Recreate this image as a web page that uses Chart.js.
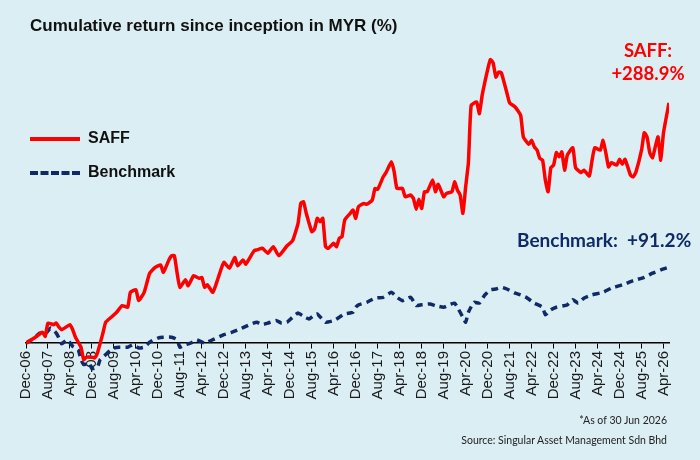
<!DOCTYPE html>
<html>
<head>
<meta charset="utf-8">
<script src="https://cdn.jsdelivr.net/npm/chart.js@4.4.1/dist/chart.umd.min.js"></script>
<style>
  html, body { margin: 0; padding: 0; background: #dbeef4; }
  #wrap { position: relative; width: 700px; height: 460px; overflow: hidden; background: #dbeef4; }
  #wrap canvas { position: absolute; left: 0; top: 0; }
  .title { position: absolute; left: 30px; top: 16px; font: bold 17px "Liberation Sans", Arial, sans-serif; color: #111; white-space: nowrap; }
  .legend { position: absolute; left: 30px; font: bold 16px "Liberation Sans", Arial, sans-serif; color: #111; white-space: nowrap; }
  .legend .swatch { display: inline-block; width: 50px; height: 0; vertical-align: middle; margin-right: 8px; }
  .note { position: absolute; font-family: Lato, "Open Sans", sans-serif; font-weight: bold; white-space: nowrap; text-align: center; }
  .foot { position: absolute; right: 33px; font: 10.5px Lato, "Open Sans", sans-serif; color: #222; white-space: nowrap; }
</style>
</head>
<body>
<div id="wrap">
  <canvas id="perfChart" width="700" height="460"></canvas>
  <div class="title">Cumulative return since inception in MYR (%)</div>
  <div class="legend" style="top:129px"><span class="swatch" style="border-top:4px solid #ff0000"></span>SAFF</div>
  <div class="legend" style="top:163px"><span class="swatch" style="border-top:4px dashed #0f2a66"></span>Benchmark</div>
  <div class="note" style="left:605px; top:39px; width:86px; font-size:18.5px; line-height:23px; color:#ff0000">SAFF:<br>+288.9%</div>
  <div class="note" style="left:517px; top:228px; font-size:19px; color:#0f2a66">Benchmark:&nbsp; +91.2%</div>
  <div class="foot" style="top:414px">*As of 30 Jun 2026</div>
  <div class="foot" style="top:434px">Source: Singular Asset Management Sdn Bhd</div>
</div>
<script>
// months counted from Dec-06 (0) to Jun-26 (234); ticks every 8 months
const tickLabels = ['Dec-06', 'Aug-07', 'Apr-08', 'Dec-08', 'Aug-09', 'Apr-10', 'Dec-10', 'Aug-11', 'Apr-12', 'Dec-12',
    'Aug-13', 'Apr-14', 'Dec-14', 'Aug-15', 'Apr-16', 'Dec-16', 'Aug-17', 'Apr-18', 'Dec-18', 'Aug-19',
    'Apr-20', 'Dec-20', 'Aug-21', 'Apr-22', 'Dec-22', 'Aug-23', 'Apr-24', 'Dec-24', 'Aug-25', 'Apr-26'];

const saffMonths = [0, 3, 6, 7, 8, 10, 11, 12, 13, 16, 17, 18, 20, 21, 22, 24, 25, 26, 28, 29,
    31, 33, 35, 37, 38, 40, 41, 43, 45, 47, 49, 50, 52, 53, 54, 55, 56, 58, 59, 61,
    63, 64, 65, 66, 68, 70, 72, 74, 76, 77, 79, 80, 83, 84, 86, 88, 90, 92, 95, 97,
    99, 100, 101, 102, 104, 105, 106, 107, 108, 109, 110, 112, 113, 114, 115, 116, 118, 119, 120, 121,
    123, 124, 126, 127, 128, 130, 131, 133, 134, 135, 137, 138, 140, 141, 142, 143, 144, 145, 146, 148,
    149, 150, 152, 153, 155, 156, 157, 158, 159, 160, 161, 162, 164, 165, 166, 168, 169, 170, 171, 172,
    173, 175, 176, 178, 180, 181, 183, 184, 185, 186, 187, 188, 189, 190, 191, 192, 193, 194, 195, 196,
    197, 199, 200, 202, 203, 205, 206, 207, 209, 210, 211, 212, 213, 215, 216, 217, 218, 220, 221, 222,
    224, 225, 226, 227, 228, 229, 230, 231, 232, 234];
const saffReturns = [0, 6, 13, 8, 24, 22, 24, 19, 16, 22, 16, 7, -5, -20, -17, -17, -18, -12, 12, 25,
    31, 37, 45, 43, 61, 64, 51, 61, 84, 91, 94, 85, 100, 105, 105, 84, 67, 76, 69, 81,
    78, 79, 67, 70, 61, 79, 97, 90, 103, 93, 100, 95, 111, 112, 114, 108, 116, 105, 117, 123,
    144, 168, 170, 156, 134, 137, 150, 146, 150, 116, 114, 120, 116, 126, 128, 148, 156, 160, 150, 164,
    168, 167, 172, 186, 185, 200, 205, 218, 206, 186, 186, 176, 178, 174, 161, 173, 162, 182, 182, 196,
    182, 191, 176, 180, 182, 194, 184, 178, 156, 188, 217, 286, 290, 276, 298, 329, 341, 337, 320, 326,
    325, 301, 289, 284, 274, 248, 239, 244, 236, 232, 222, 220, 196, 182, 211, 214, 229, 224, 230, 208,
    226, 235, 211, 205, 208, 201, 220, 235, 232, 244, 229, 212, 217, 214, 221, 215, 221, 202, 200, 206,
    232, 253, 248, 229, 223, 236, 248, 220, 253, 288.9];

const benchMonths = [0, 3, 5, 7, 9, 11, 12, 13, 15, 17, 19, 20, 21, 23, 24, 26, 27, 29, 31, 32,
    34, 37, 39, 41, 43, 45, 48, 50, 53, 55, 56, 58, 60, 62, 65, 68, 72, 75, 78, 80,
    82, 84, 86, 88, 91, 93, 95, 97, 99, 101, 103, 105, 106, 108, 109, 112, 114, 116, 119, 120,
    121, 124, 127, 130, 133, 135, 137, 140, 142, 144, 147, 149, 152, 154, 156, 157, 159, 160, 161, 163,
    165, 167, 169, 171, 173, 175, 178, 180, 182, 185, 188, 189, 191, 193, 197, 199, 201, 203, 206, 210,
    213, 217, 221, 225, 228, 231, 234];
const benchReturns = [0, 6, 12, 11, 18, 12, 6, -1, 4, -4, -8, -20, -26, -24, -31, -29, -20, -14, -8, -6,
    -5, -5, -2, -6, -5, 1, 6, 7, 7, 4, -5, -2, 0, 4, 0, 4, 10, 13, 17, 20,
    23, 25, 22, 24, 27, 24, 25, 31, 36, 32, 29, 34, 35, 28, 25, 27, 31, 35, 37, 43,
    46, 49, 54, 55, 61, 55, 51, 55, 45, 46, 47, 45, 43, 46, 48, 43, 31, 25, 37, 49,
    48, 58, 64, 65, 67, 65, 60, 58, 55, 48, 43, 34, 40, 43, 46, 52, 48, 54, 58, 61,
    66, 70, 75, 79, 84, 88, 91.2];

const toPoints = (xs, ys) => xs.map((m, i) => ({ x: m, y: ys[i] }));

new Chart(document.getElementById('perfChart'), {
    type: 'line',
    data: {
        datasets: [{
            label: 'SAFF',
            data: toPoints(saffMonths, saffReturns),
            borderColor: '#ff0000',
            borderWidth: 3.5,
            pointRadius: 0,
            tension: 0.15,
            fill: false,
        }, {
            label: 'Benchmark',
            data: toPoints(benchMonths, benchReturns),
            borderColor: '#0f2a66',
            borderWidth: 3.5,
            borderDash: [7, 5],
            pointRadius: 0,
            tension: 0.15,
            fill: false,
        }],
    },
    options: {
        responsive: false,
        animation: false,
        devicePixelRatio: 1,
        // the x axis sits on the zero line, so it does not take room at the bottom
        layout: { padding: { left: 26, right: 31, top: 40, bottom: 80 } },
        plugins: {
            legend: { display: false },
            tooltip: { enabled: false },
        },
        scales: {
            x: {
                type: 'linear',
                min: 0,
                max: 234,
                position: { y: 0 },
                afterBuildTicks: scale => {
                    scale.ticks = tickLabels.map((_, i) => ({ value: i * 8 }));
                },
                afterFit: scale => {
                    scale.paddingLeft = 0;
                    scale.paddingRight = 0;
                },
                ticks: {
                    autoSkip: false,
                    minRotation: 90,
                    maxRotation: 90,
                    padding: 3,
                    color: '#1a1a1a',
                    font: { family: 'Liberation Sans', size: 15 },
                    callback: value => tickLabels[value / 8],
                },
                grid: { drawOnChartArea: false, tickLength: 5, color: '#000', lineWidth: 1 },
                border: { color: '#000', width: 1.5 },
            },
            y: {
                display: false,
                min: -44.5,
                max: 364.6,
            },
        },
    },
});
</script>
</body>
</html>
